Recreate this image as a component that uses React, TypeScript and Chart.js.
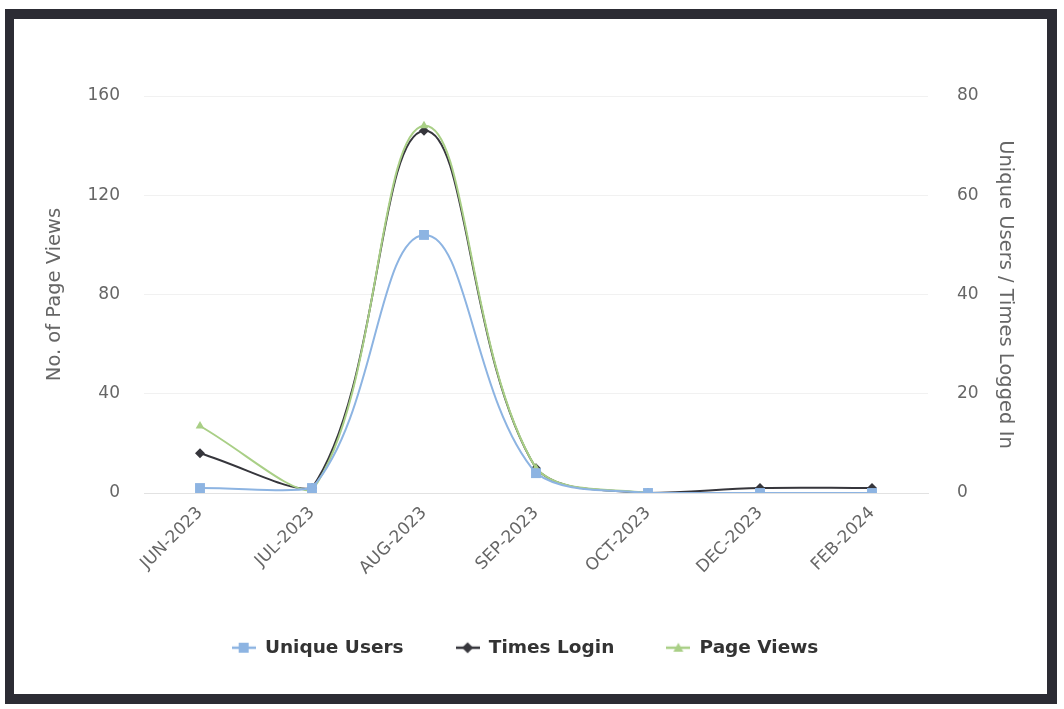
import React, { useEffect, useRef } from "react";
import { Chart, registerables } from "chart.js";

Chart.register(...registerables);

const categories = ["JUN-2023", "JUL-2023", "AUG-2023", "SEP-2023", "OCT-2023", "DEC-2023", "FEB-2024"];
const uniqueUsers = [1, 1, 52, 4, 0, 0, 0];
const timesLogin = [8, 1, 73, 5, 0, 1, 1];
const pageViews = [27, 1, 148, 10, 0, 0, 0];
const leftTicks = [0, 40, 80, 120, 160];
const rightTicks = [0, 20, 40, 60, 80];

const FONT = "'DejaVu Sans', 'Open Sans', sans-serif";
const C_UU = "#8db4e2";
const C_TL = "#36363c";
const C_PV = "#a9cf86";

function makeSymbol(color: string, shape: string): HTMLCanvasElement {
  const c = document.createElement("canvas");
  c.width = 24;
  c.height = 14;
  const ctx = c.getContext("2d")!;
  ctx.strokeStyle = color;
  ctx.fillStyle = color;
  ctx.lineWidth = 2.5;
  ctx.beginPath();
  ctx.moveTo(0, 7);
  ctx.lineTo(24, 7);
  ctx.stroke();
  ctx.beginPath();
  if (shape === "rect") {
    ctx.rect(7, 2, 10, 10);
  } else if (shape === "rectRot") {
    ctx.moveTo(12, 1.5);
    ctx.lineTo(17.5, 7);
    ctx.lineTo(12, 12.5);
    ctx.lineTo(6.5, 7);
    ctx.closePath();
  } else {
    ctx.moveTo(12, 2);
    ctx.lineTo(17, 11);
    ctx.lineTo(7, 11);
    ctx.closePath();
  }
  ctx.fill();
  return c;
}

const legendShift = {
  id: "legendShift",
  afterLayout(chart: any) {
    if (chart.legend) chart.legend.right -= 18;
  },
};

export default function App() {
  const ref = useRef<HTMLCanvasElement | null>(null);

  useEffect(() => {
    if (!ref.current) return;
    const symbols = [
      makeSymbol(C_UU, "rect"),
      makeSymbol(C_TL, "rectRot"),
      makeSymbol(C_PV, "triangle"),
    ];
    const chart = new Chart(ref.current, {
      type: "line",
      plugins: [legendShift],
      data: {
        labels: categories,
        datasets: [
          {
            label: "Unique Users",
            data: uniqueUsers,
            yAxisID: "yR",
            order: 0,
            borderColor: C_UU,
            backgroundColor: C_UU,
            borderWidth: 2,
            tension: 0.4,
            pointStyle: "rect",
            pointRadius: 7,
            pointBorderWidth: 0,
          },
          {
            label: "Times Login",
            data: timesLogin,
            yAxisID: "yR",
            order: 2,
            borderColor: C_TL,
            backgroundColor: C_TL,
            borderWidth: 2,
            tension: 0.4,
            pointStyle: "rectRot",
            pointRadius: 5,
            pointBorderWidth: 0,
          },
          {
            label: "Page Views",
            data: pageViews,
            yAxisID: "yL",
            order: 1,
            borderColor: C_PV,
            backgroundColor: C_PV,
            borderWidth: 2,
            tension: 0.4,
            pointStyle: "triangle",
            pointRadius: 5,
            pointBorderWidth: 0,
          },
        ],
      },
      options: {
        responsive: false,
        animation: false,
        layout: { padding: { left: 40, right: 36, top: 96, bottom: 42 } },
        plugins: {
          tooltip: { enabled: false },
          legend: {
            position: "bottom",
            labels: {
              usePointStyle: true,
              pointStyleWidth: 24,
              padding: 52,
              color: "#333",
              font: { family: FONT, size: 18.5, weight: "bold" },
              generateLabels: (ch: any) =>
                ch.data.datasets.map((ds: any, i: number) => ({
                  text: ds.label,
                  fillStyle: ds.borderColor,
                  strokeStyle: ds.borderColor,
                  lineWidth: 0,
                  pointStyle: symbols[i],
                  datasetIndex: i,
                  hidden: false,
                  fontColor: "#333",
                })),
            },
          },
        },
        scales: {
          x: {
            offset: true,
            grid: { display: false, drawTicks: false },
            border: { display: true, color: "#e2e2e2", width: 1 },
            ticks: {
              minRotation: 45,
              maxRotation: 45,
              padding: 10,
              color: "#666",
              font: { family: FONT, size: 17 },
            },
            afterFit: (s: any) => {
              s.height = 93.5;
            },
          },
          yL: {
            position: "left",
            min: 0,
            max: 160,
            afterBuildTicks: (s: any) => {
              s.ticks = leftTicks.map((v) => ({ value: v }));
            },
            grid: { color: "#f1f1f1", drawTicks: false },
            border: { display: false },
            ticks: { padding: 24, color: "#666", font: { family: FONT, size: 17 } },
            title: {
              display: true,
              text: "No. of Page Views",
              color: "#666",
              font: { family: FONT, size: 19.5 },
              padding: { top: 3, bottom: 0 },
            },
            afterFit: (s: any) => {
              s.width = 104;
            },
          },
          yR: {
            position: "right",
            min: 0,
            max: 80,
            afterBuildTicks: (s: any) => {
              s.ticks = rightTicks.map((v) => ({ value: v }));
            },
            grid: { drawOnChartArea: false, drawTicks: false },
            border: { display: false },
            ticks: { padding: 29, color: "#666", font: { family: FONT, size: 17 } },
            title: {
              display: true,
              text: "Unique Users / Times Logged In",
              color: "#666",
              font: { family: FONT, size: 19.5 },
              padding: { top: 11, bottom: 0 },
            },
            afterFit: (s: any) => {
              s.width = 100;
            },
          },
        },
      },
    } as any);
    return () => chart.destroy();
  }, []);

  return (
    <div style={{ position: "absolute", left: 0, top: 0, width: 1064, height: 709, background: "#fff", overflow: "hidden" }}>
      <canvas ref={ref} width={1064} height={709} style={{ position: "absolute", left: 0, top: 0 }} />
      <div
        style={{
          position: "absolute",
          left: 5,
          top: 9,
          width: 1052,
          height: 695,
          boxSizing: "border-box",
          borderStyle: "solid",
          borderColor: "#2c2c34",
          borderWidth: "10px 10px 10px 9px",
          pointerEvents: "none",
        }}
      />
    </div>
  );
}
